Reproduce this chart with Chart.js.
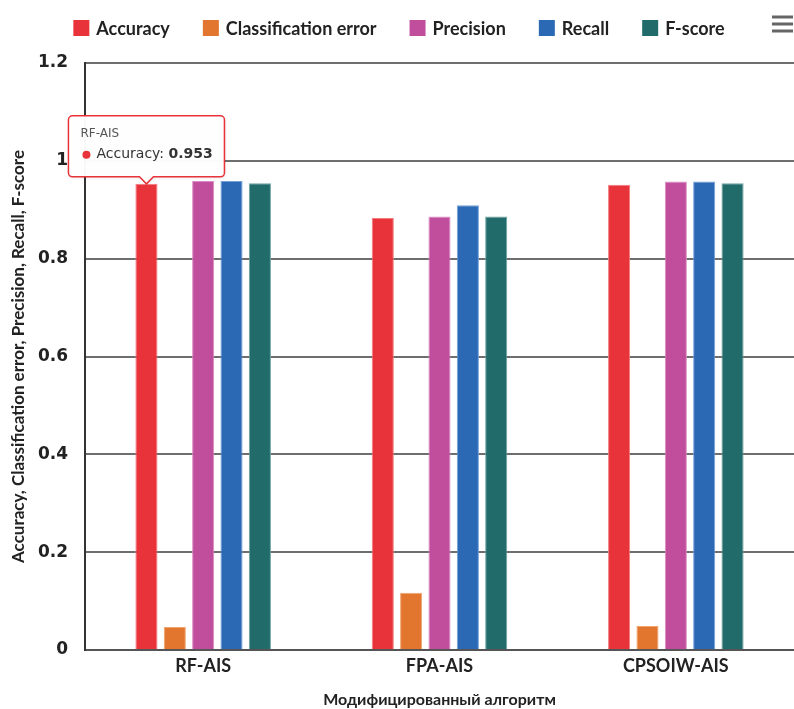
<!DOCTYPE html>
<html>
<head>
<meta charset="utf-8">
<title>Algorithms comparison</title>
<script src="https://cdn.jsdelivr.net/npm/chart.js"></script>
<style>
  html, body { margin: 0; padding: 0; background: #fff; }
  #wrap { width: 794px; height: 709px; position: relative; }
</style>
</head>
<body>
<div id="wrap"><canvas id="algoChart"></canvas></div>
<script>
// values
const categories = ['RF-AIS', 'FPA-AIS', 'CPSOIW-AIS'];
const accuracy = [0.953, 0.883, 0.951];
const classError = [0.047, 0.117, 0.049];
const precision = [0.959, 0.886, 0.958];
const recall = [0.959, 0.909, 0.958];
const fScore = [0.954, 0.886, 0.954];
const seriesNames = ['Accuracy', 'Classification error', 'Precision', 'Recall', 'F-score'];
const yTicks = [0, 0.2, 0.4, 0.6, 0.8, 1, 1.2];

const fill = ['#e8333a', '#e2762e', '#c04e9c', '#2b69b5', '#226b6b'];
const edge = ['#f27a7e', '#f0a56f', '#dc8cc4', '#73a0d8', '#6fa3a3'];

const condensed = 'Lato, "Open Sans", sans-serif';

// legend drawn on top, like the original one
const topLegend = {
    id: 'topLegend',
    afterDraw(chart) {
        const ctx = chart.ctx;
        const sets = chart.data.datasets;
        ctx.save();
        ctx.font = 'bold 18px ' + condensed;
        const box = 16, gapText = 7, gapItem = 33;
        const widths = sets.map(d => box + gapText + ctx.measureText(d.label).width);
        const total = widths.reduce((a, b) => a + b, 0) + gapItem * (sets.length - 1);
        let x = chart.width / 2 - total / 2 + 2;
        const y = 28;
        sets.forEach((d, i) => {
            ctx.fillStyle = d.backgroundColor;
            ctx.fillRect(x, y - box / 2, box, box);
            ctx.fillStyle = '#222';
            ctx.textBaseline = 'middle';
            ctx.fillText(d.label, x + box + gapText, y + 1);
            x += widths[i] + gapItem;
        });
        // menu icon
        ctx.fillStyle = '#666';
        [17, 24, 31].forEach(yy => ctx.fillRect(chart.width - 22, yy - 1.5, 21, 3));
        ctx.restore();
    }
};

// fixed tooltip on the first bar
const pinnedTip = {
    id: 'pinnedTip',
    afterDraw(chart) {
        const bar = chart.getDatasetMeta(0).data[0];
        const ds = chart.data.datasets[0];
        const ctx = chart.ctx;
        ctx.save();
        const w = 156, h = 61, caret = 7, r = 4;
        const cx = bar.x;
        const bottom = bar.y - 7;
        const left = cx - w / 2, top = bottom - h;
        ctx.beginPath();
        ctx.moveTo(left + r, top);
        ctx.lineTo(left + w - r, top);
        ctx.arcTo(left + w, top, left + w, top + r, r);
        ctx.lineTo(left + w, bottom - r);
        ctx.arcTo(left + w, bottom, left + w - r, bottom, r);
        ctx.lineTo(cx + caret, bottom);
        ctx.lineTo(cx, bottom + caret);
        ctx.lineTo(cx - caret, bottom);
        ctx.lineTo(left + r, bottom);
        ctx.arcTo(left, bottom, left, bottom - r, r);
        ctx.lineTo(left, top + r);
        ctx.arcTo(left, top, left + r, top, r);
        ctx.closePath();
        ctx.fillStyle = 'rgba(255,255,255,0.97)';
        ctx.shadowColor = 'rgba(0,0,0,0.12)';
        ctx.shadowBlur = 3;
        ctx.shadowOffsetX = 1;
        ctx.shadowOffsetY = 1;
        ctx.fill();
        ctx.shadowColor = 'transparent';
        ctx.strokeStyle = ds.backgroundColor;
        ctx.lineWidth = 1.5;
        ctx.stroke();

        ctx.textBaseline = 'middle';
        ctx.fillStyle = '#555';
        ctx.font = '12px "DejaVu Sans", sans-serif';
        ctx.fillText(chart.data.labels[0], left + 12, top + 18);

        ctx.beginPath();
        ctx.arc(left + 18, top + 39, 4, 0, Math.PI * 2);
        ctx.fillStyle = ds.backgroundColor;
        ctx.fill();

        ctx.fillStyle = '#333';
        ctx.font = '14px "DejaVu Sans", sans-serif';
        const lab = ds.label + ': ';
        ctx.fillText(lab, left + 28, top + 39);
        const lw = ctx.measureText(lab).width;
        ctx.font = 'bold 14px "DejaVu Sans", sans-serif';
        ctx.fillText(String(ds.data[0]), left + 28 + lw, top + 39);
        ctx.restore();
    }
};

const series = [accuracy, classError, precision, recall, fScore];

new Chart(document.getElementById('algoChart'), {
    type: 'bar',
    data: {
        labels: categories,
        datasets: series.map((vals, i) => ({
            label: seriesNames[i],
            data: vals,
            backgroundColor: fill[i],
            borderColor: edge[i],
            borderWidth: 1,
            categoryPercentage: 0.6,
            barPercentage: 0.78
        }))
    },
    options: {
        responsive: true,
        maintainAspectRatio: false,
        animation: false,
        layout: { padding: { top: 63, right: 0, left: 0, bottom: 0 } },
        plugins: {
            legend: { display: false },
            tooltip: { enabled: false }
        },
        scales: {
            x: {
                grid: { display: false, drawTicks: false },
                border: { display: true, color: '#555', width: 2 },
                ticks: {
                    padding: 5,
                    color: '#222',
                    font: { family: condensed, size: 18, weight: 'bold' }
                },
                title: {
                    display: true,
                    text: 'Модифицированный алгоритм',
                    color: '#222',
                    padding: { top: 0, bottom: 0 },
                    font: { family: condensed, size: 16, weight: 'bold', lineHeight: 1.2 }
                },
                afterFit(scale) { scale.height = 59; }
            },
            y: {
                min: 0,
                max: 1.2,
                afterBuildTicks(scale) { scale.ticks = yTicks.map(v => ({ value: v })); },
                grid: { color: '#6e6e6e', lineWidth: 2, drawTicks: false },
                border: { display: true, color: '#333', width: 2 },
                ticks: {
                    padding: 17,
                    color: '#222',
                    callback: v => String(v),
                    font: { family: '"DejaVu Sans", sans-serif', size: 17, weight: 'bold' }
                },
                title: {
                    display: true,
                    text: 'Accuracy, Classification error, Precision, Recall, F-score',
                    color: '#222',
                    padding: { top: 8, bottom: 0 },
                    font: { family: condensed, size: 17, weight: 'bold', lineHeight: 1.2 }
                },
                afterFit(scale) { scale.width = 85; }
            }
        }
    },
    plugins: [topLegend, pinnedTip]
});
</script>
</body>
</html>
